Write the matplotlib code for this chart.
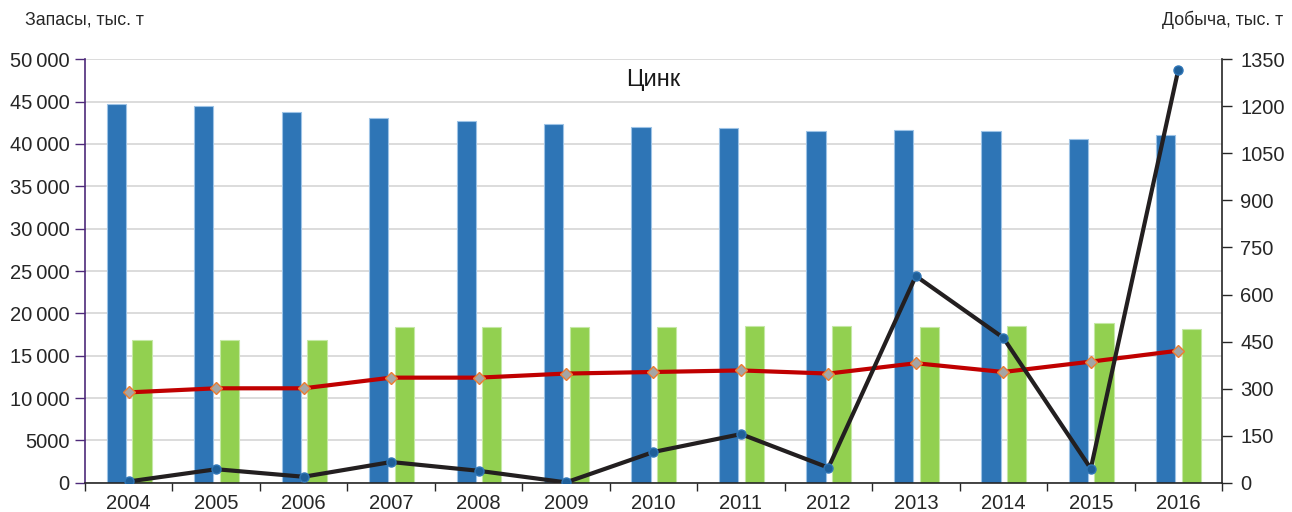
import matplotlib
matplotlib.use("Agg")
import matplotlib.pyplot as plt
import numpy as np
from matplotlib.ticker import FuncFormatter, FixedLocator

plt.rcParams['font.family'] = ['Liberation Sans', 'DejaVu Sans']

years = ["2004", "2005", "2006", "2007", "2008", "2009", "2010",
         "2011", "2012", "2013", "2014", "2015", "2016"]
reserves_abc1 = [44700, 44500, 43800, 43100, 42700, 42400, 42000,
                 41850, 41500, 41700, 41500, 40600, 41100]
reserves_c2 = [16800, 16800, 16800, 18400, 18400, 18400, 18400,
               18500, 18500, 18400, 18500, 18900, 18200]
production = [288, 301, 301, 335, 335, 348, 353, 358, 348, 381, 353, 386, 421]
growth = [4, 43, 19, 66, 38, 1, 98, 155, 48, 659, 462, 45, 1316]

left_ticks = [0, 5000, 10000, 15000, 20000, 25000, 30000, 35000, 40000, 45000, 50000]
right_ticks = [0, 150, 300, 450, 600, 750, 900, 1050, 1200, 1350]

text_color = "#262626"
purple = "#4E2A7A"

fig = plt.figure(figsize=(12.92, 5.12), dpi=100)
ax = fig.add_axes([0.0658, 0.0572, 0.88, 0.8270])
ax2 = ax.twinx()

x = np.arange(len(years))
bw = 0.22
ax.bar(x - 0.142, reserves_abc1, width=bw, color="#2E75B6",
       edgecolor="#9DC3E6", linewidth=0.8, zorder=2)
ax.bar(x + 0.152, reserves_c2, width=bw, color="#92D050",
       edgecolor="#C5E8A5", linewidth=0.8, zorder=2)

ax2.plot(x, production, color="#C00000", linewidth=3.0, marker="D",
         markersize=6.5, markerfacecolor="#A5A5A5", markeredgecolor="#ED7D31",
         markeredgewidth=1.0, zorder=3)
ax2.plot(x, growth, color="#231F20", linewidth=3.0, marker="o",
         markersize=6.5, markerfacecolor="#1F5F99", markeredgecolor="#2E75B6",
         markeredgewidth=1.0, zorder=4)

ax.set_xlim(-0.5, len(years) - 0.5)
ax.set_ylim(0, 50000)
ax2.set_ylim(0, 1350)

ax.yaxis.set_major_locator(FixedLocator(left_ticks))
ax2.yaxis.set_major_locator(FixedLocator(right_ticks))


def thousands(v, pos):
    v = int(round(v))
    if v >= 10000:
        return f"{v // 1000}\u2009{v % 1000:03d}"
    return str(v)


ax.yaxis.set_major_formatter(FuncFormatter(thousands))

ax.grid(axis="y", color="#D9D9D9", linewidth=1.3, zorder=0)
ax.set_axisbelow(True)

# category labels at centres, tick marks at the boundaries
ax.set_xticks(x)
ax.set_xticklabels(years)
ax.set_xticks(np.arange(len(years) + 1) - 0.5, minor=True)
ax.tick_params(axis="x", which="major", length=0, pad=8,
               labelsize=14.5, labelcolor=text_color)
ax.tick_params(axis="x", which="minor", length=6, width=1.0,
               direction="out", color="#262626")

ax.tick_params(axis="y", length=7, width=1.0, color=purple, pad=4,
               labelsize=14.5, labelcolor=text_color)
ax2.tick_params(axis="y", length=7, width=1.0, color="#262626", pad=6,
                labelsize=14.5, labelcolor=text_color)

for a in (ax, ax2):
    a.spines["top"].set_visible(False)
ax.spines["right"].set_visible(False)
ax.spines["left"].set_color(purple)
ax.spines["left"].set_linewidth(1.2)
ax.spines["bottom"].set_color("#262626")
ax.spines["bottom"].set_linewidth(1.2)
ax2.spines["left"].set_visible(False)
ax2.spines["bottom"].set_visible(False)
ax2.spines["right"].set_color("#262626")
ax2.spines["right"].set_linewidth(1.2)

ax.text(0.5, 0.951, "Цинк", transform=ax.transAxes, ha="center", va="center",
        fontsize=17, color="#1a1a1a")

fig.text(25 / 1292, 1 - 20 / 512, "Запасы, тыс. т", ha="left", va="center",
         fontsize=12.8, color=text_color)
fig.text(1283 / 1292, 1 - 20 / 512, "Добыча, тыс. т", ha="right", va="center",
         fontsize=12.8, color=text_color)

fig.savefig("out.png", dpi=100)
